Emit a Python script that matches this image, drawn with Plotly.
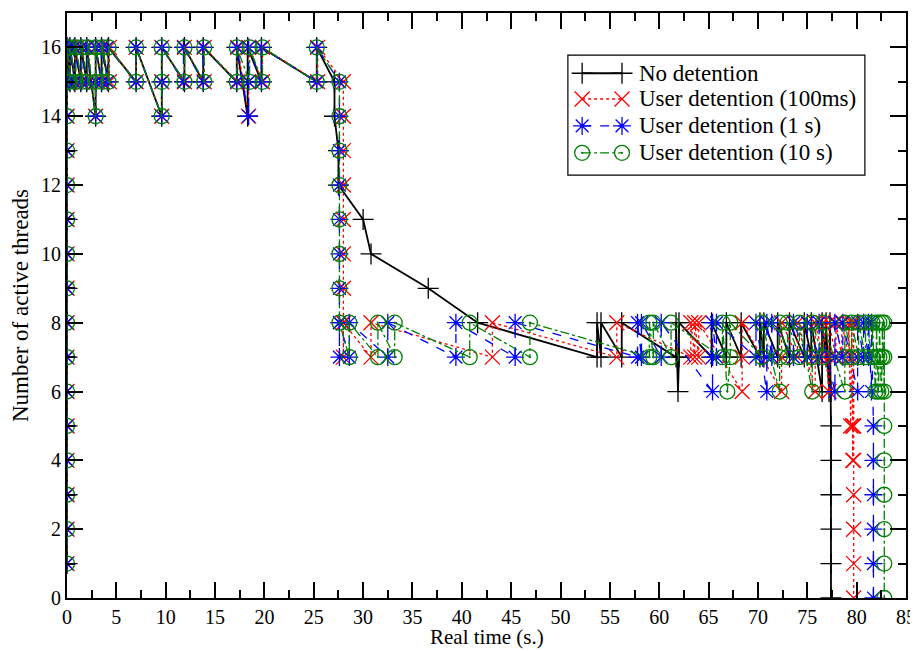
import plotly.graph_objects as go

# ---- data (time in s, active threads) ----
no_det_t = [0, 0, 0, 0, 0, 0, 0, 0, 0, 0, 0, 0, 0, 0, 0, 0,
            0.3, 0.3, 0.8, 0.8, 1.4, 1.4, 2.0, 2.0, 2.9, 2.9, 2.9, 3.5, 3.5, 4.2, 4.2, 7.0, 7.0,
            9.6, 9.6, 9.6, 11.9, 11.9, 13.8, 13.8, 17.2, 17.2, 18.3, 18.3, 18.3, 19.7, 19.7,
            25.3, 25.3, 27.1, 27.1, 27.5, 27.5, 30.0, 30.8, 36.6, 41.6,
            53.7, 53.7, 54.1, 54.1, 56.2, 56.2, 61.7, 61.7, 61.9, 62.0, 62.0, 65.3, 65.3,
            66.8, 66.8, 68.3, 68.3, 70.2, 70.2, 70.6, 70.6, 72.0, 72.0, 73.2, 73.2, 74.7, 74.7,
            75.4, 75.4, 76.5, 76.5, 76.9, 76.9, 77.2, 77.3, 77.4, 77.4, 77.4, 77.4, 77.4, 77.4, 77.4]
no_det_n = [1, 2, 3, 4, 5, 6, 7, 8, 9, 10, 11, 12, 13, 14, 15, 16,
            15, 16, 15, 16, 15, 16, 15, 16, 14, 15, 16, 15, 16, 15, 16, 15, 16,
            14, 15, 16, 15, 16, 15, 16, 15, 16, 14, 15, 16, 15, 16,
            15, 16, 15, 14, 13, 12, 11, 10, 9, 8,
            7, 8, 7, 8, 7, 8, 7, 8, 6, 7, 8, 7, 8,
            7, 8, 7, 8, 7, 8, 7, 8, 7, 8, 7, 8, 7, 8,
            7, 8, 6, 8, 7, 8, 6, 8, 6, 5, 4, 3, 2, 1, 0]

det100_t = [0, 0, 0, 0, 0, 0, 0, 0, 0, 0, 0, 0, 0, 0, 0, 0,
            0.3, 0.3, 0.8, 0.8, 1.5, 1.5, 2.1, 2.1, 2.9, 2.9, 2.9, 3.6, 3.6, 4.3, 4.3, 7.0, 7.0,
            9.6, 9.6, 9.6, 11.9, 11.9, 13.9, 13.9, 17.3, 17.3, 18.4, 18.4, 18.4, 19.8, 19.8,
            25.4, 25.4, 28.0, 28.0, 28.0, 28.0, 28.0, 28.0, 28.0, 28.0, 28.0, 28.0,
            30.8, 30.8, 43.1, 43.1, 55.7, 55.7, 63.2, 63.2, 63.6, 63.6, 64.0, 64.0,
            68.4, 68.4, 68.4, 72.4, 72.4, 72.4, 74.0, 74.0, 75.8, 75.8, 75.8, 76.6, 76.6,
            77.2, 77.2, 77.2, 77.9, 77.9, 78.5, 78.5, 79.2, 79.2, 79.4, 79.5, 79.5,
            79.6, 79.6, 79.7, 79.7, 79.7, 79.7, 79.7, 79.7, 79.7]
det100_n = [1, 2, 3, 4, 5, 6, 7, 8, 9, 10, 11, 12, 13, 14, 15, 16,
            15, 16, 15, 16, 15, 16, 15, 16, 14, 15, 16, 15, 16, 15, 16, 15, 16,
            14, 15, 16, 15, 16, 15, 16, 15, 16, 14, 15, 16, 15, 16,
            15, 16, 15, 14, 13, 12, 11, 10, 9, 8, 7, 8,
            7, 8, 7, 8, 7, 8, 7, 8, 7, 8, 7, 8,
            6, 7, 8, 6, 7, 8, 7, 8, 6, 7, 8, 7, 8,
            6, 7, 8, 7, 8, 7, 8, 7, 8, 5, 7, 8,
            5, 4, 8, 5, 4, 3, 2, 1, 0]

det1s_t = [0, 0, 0, 0, 0, 0, 0, 0, 0, 0, 0, 0, 0, 0, 0, 0,
           0.2, 0.2, 0.7, 0.7, 1.4, 1.4, 2.0, 2.0, 2.9, 2.9, 2.9, 3.5, 3.5, 4.1, 4.1, 7.0, 7.0,
           9.6, 9.6, 9.6, 11.8, 11.8, 13.8, 13.8, 17.2, 17.2, 18.4, 18.4, 18.4, 19.7, 19.7,
           25.3, 25.3, 27.6, 27.6, 27.6, 27.6, 27.6, 27.6, 27.6, 27.6, 27.6, 27.6,
           28.6, 28.6, 32.5, 32.5, 39.4, 39.4, 45.4, 45.4, 57.8, 57.8, 58.2, 58.2, 60.2, 60.2,
           65.4, 65.4, 65.4, 65.8, 65.8, 69.8, 69.8, 70.9, 70.9, 70.9, 71.4, 71.4,
           73.6, 73.6, 75.0, 75.0, 76.2, 76.2, 77.8, 77.8, 77.8, 78.6, 78.6,
           80.1, 80.1, 80.1, 80.7, 80.7, 81.2, 81.2, 81.5, 81.5,
           81.7, 81.7, 81.7, 81.7, 81.7, 81.7]
det1s_n = [1, 2, 3, 4, 5, 6, 7, 8, 9, 10, 11, 12, 13, 14, 15, 16,
           15, 16, 15, 16, 15, 16, 15, 16, 14, 15, 16, 15, 16, 15, 16, 15, 16,
           14, 15, 16, 15, 16, 15, 16, 15, 16, 14, 15, 16, 15, 16,
           15, 16, 15, 14, 13, 12, 11, 10, 9, 8, 7, 8,
           7, 8, 7, 8, 7, 8, 7, 8, 7, 8, 7, 8, 7, 8,
           6, 7, 8, 7, 8, 7, 8, 6, 7, 8, 7, 8,
           7, 8, 7, 8, 7, 8, 6, 7, 8, 7, 8,
           6, 7, 8, 7, 8, 7, 8, 6, 8,
           5, 4, 3, 2, 1, 0]

det10s_t = [0, 0, 0, 0, 0, 0, 0, 0, 0, 0, 0, 0, 0, 0, 0, 0,
            0.3, 0.3, 0.9, 0.9, 1.5, 1.5, 2.1, 2.1, 2.9, 2.9, 2.9, 3.6, 3.6, 4.2, 4.2, 7.0, 7.0,
            9.6, 9.6, 9.6, 11.9, 11.9, 13.9, 13.9, 17.2, 17.2, 18.5, 18.5, 19.8, 19.8,
            25.3, 25.3, 27.6, 27.6, 27.6, 27.6, 27.6, 27.6, 27.6, 27.6,
            28.6, 28.6, 31.5, 31.5, 33.2, 33.2, 40.8, 40.8, 46.9, 46.9,
            59.0, 59.0, 59.4, 59.4, 61.2, 61.2, 66.4, 66.4, 66.9, 67.2, 67.2, 70.4, 70.4,
            72.2, 72.2, 72.2, 73.0, 73.0, 74.2, 74.2, 75.5, 75.5, 75.5, 76.6, 76.6,
            78.8, 78.8, 78.8, 79.5, 79.5, 80.2, 80.2, 80.9, 80.9, 81.6, 81.6,
            81.9, 82.0, 82.0, 82.2, 82.3, 82.3, 82.5, 82.6, 82.6, 82.8, 82.8, 82.8,
            82.8, 82.8, 82.8, 82.8, 82.8, 82.8]
det10s_n = [1, 2, 3, 4, 5, 6, 7, 8, 9, 10, 11, 12, 13, 14, 15, 16,
            15, 16, 15, 16, 15, 16, 15, 16, 14, 15, 16, 15, 16, 15, 16, 15, 16,
            14, 15, 16, 15, 16, 15, 16, 15, 16, 15, 16, 15, 16,
            15, 16, 15, 14, 13, 12, 11, 10, 9, 8,
            7, 8, 7, 8, 7, 8, 7, 8, 7, 8,
            7, 8, 7, 8, 7, 8, 7, 8, 6, 7, 8, 7, 8,
            6, 7, 8, 7, 8, 7, 8, 6, 7, 8, 7, 8,
            6, 7, 8, 7, 8, 7, 8, 7, 8, 7, 8,
            6, 7, 8, 6, 7, 8, 6, 7, 8, 6, 7, 8,
            5, 4, 3, 2, 1, 0]

series_names = ["No detention", "User detention (100ms)", "User detention (1 s)", "User detention (10 s)"]
x_ticks = [0, 5, 10, 15, 20, 25, 30, 35, 40, 45, 50, 55, 60, 65, 70, 75, 80, 85]
y_ticks = [0, 2, 4, 6, 8, 10, 12, 14, 16]
x_title = "Real time (s.)"
y_title = "Number of active threads"

FONT = "Liberation Serif"

styles = [
    dict(color="black", symbol="cross-thin-open", dash="solid", width=1.8),
    dict(color="#ff0000", symbol="x-thin-open", dash="dot", width=1.3),
    dict(color="#0000ff", symbol="asterisk-open", dash="dash", width=1.3),
    dict(color="#008000", symbol="circle-open-dot", dash="dashdot", width=1.3),
]
data = [(no_det_t, no_det_n), (det100_t, det100_n), (det1s_t, det1s_n), (det10s_t, det10s_n)]

fig = go.Figure()
for (tx, ny), name, st in zip(data, series_names, styles):
    fig.add_trace(go.Scatter(
        x=tx, y=ny, name=name, mode="lines+markers", showlegend=False,
        line=dict(color=st["color"], dash=st["dash"], width=st["width"]),
        marker=dict(symbol=st["symbol"], size=15, color=st["color"],
                    line=dict(color=st["color"], width=1.3)),
    ))

# ---- custom legend (paper-fraction overlay axes) ----
leg_box = dict(x0=0.597, x1=0.951, y0=0.723, y1=0.928)
leg_rows = [0.897, 0.853, 0.807, 0.761]
leg_line_x = [0.614, 0.6615]
leg_text_x = 0.679

fig.add_shape(type="rect", xref="paper", yref="paper", layer="below",
              line=dict(color="black", width=1.2), fillcolor="white", **leg_box)
for name, st, ry in zip(series_names, styles, leg_rows):
    fig.add_trace(go.Scatter(
        x=leg_line_x, y=[ry, ry], xaxis="x2", yaxis="y2", mode="lines+markers",
        showlegend=False, hoverinfo="skip",
        line=dict(color=st["color"], dash=st["dash"], width=st["width"]),
        marker=dict(symbol=st["symbol"], size=15, color=st["color"],
                    line=dict(color=st["color"], width=1.3)),
    ))
    fig.add_annotation(x=leg_text_x, y=ry, xref="paper", yref="paper", text=name,
                       showarrow=False, xanchor="left", yanchor="middle",
                       font=dict(family=FONT, size=23, color="black"))

# x-axis title as annotation anchored to the bottom of the figure
fig.add_annotation(x=0.5, y=0, xref="paper", yref="paper", text=x_title,
                   showarrow=False, xanchor="center", yanchor="bottom", yshift=-52,
                   borderpad=0, font=dict(family=FONT, size=21, color="black"))

axis_common = dict(
    showline=True, linecolor="black", linewidth=2, mirror="allticks",
    ticks="inside", ticklen=16, tickwidth=1.5, tickcolor="black",
    showgrid=False, zeroline=False, automargin=False,
    tickfont=dict(family=FONT, size=20, color="black"),
)

fig.update_xaxes(range=[0, 85], tickvals=x_ticks,
                 minor=dict(ticks="inside", ticklen=8, tickwidth=1.5, tickcolor="black", dtick=2.5, tick0=0),
                 **axis_common)
fig.update_yaxes(range=[0, 17], tickvals=y_ticks,
                 minor=dict(ticks="inside", ticklen=8, tickwidth=1.5, tickcolor="black", dtick=1, tick0=0),
                 title=dict(text=y_title, font=dict(family=FONT, size=23, color="black"), standoff=6),
                 **axis_common)

fig.update_layout(
    xaxis2=dict(overlaying="x", range=[0, 1], visible=False, fixedrange=True),
    yaxis2=dict(overlaying="y", range=[0, 1], visible=False, fixedrange=True),
    width=910, height=643,
    margin=dict(l=59, r=12, t=5, b=53),
    paper_bgcolor="white", plot_bgcolor="white",
    font=dict(family=FONT, color="black"),
    showlegend=False,
)

fig.write_html("out.html")
